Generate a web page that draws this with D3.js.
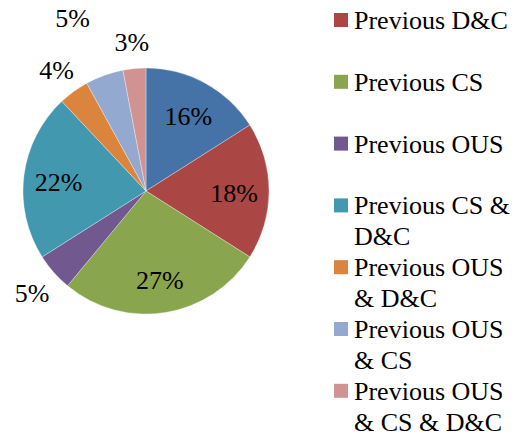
<!DOCTYPE html>
<html>
<head>
<meta charset="utf-8">
<script src="https://cdn.jsdelivr.net/npm/d3@7"></script>
<style>
  body { margin: 0; background: #fff; }
  svg { display: block; }
</style>
</head>
<body>
<div id="chart"></div>
<script>
// Categories (first one is cut off at the top of the legend in the original)
var categories = ['Previous', 'Previous D&C', 'Previous CS', 'Previous OUS',
  'Previous CS & D&C', 'Previous OUS & D&C', 'Previous OUS & CS', 'Previous OUS & CS & D&C'];
var values = [16, 18, 27, 5, 22, 4, 5, 3];
var colors = ['#4572A7', '#AA4643', '#89A54E', '#71588F', '#4198AF', '#DB843D', '#93A9CF', '#D19392'];

var width = 515, height = 438;
var cx = 146, cy = 191, radius = 123;
var fontFamily = "'Liberation Serif', 'Times New Roman', Tinos, 'DejaVu Serif', serif";

var svg = d3.select('#chart').append('svg')
  .attr('width', width)
  .attr('height', height)
  .style('font-family', fontFamily);

var pie = d3.pie().sort(null).value(function (d) { return d; });
var arcs = pie(values);

var arc = d3.arc().innerRadius(0).outerRadius(radius);

var g = svg.append('g').attr('transform', 'translate(' + cx + ',' + cy + ')');

g.selectAll('path')
  .data(arcs)
  .enter().append('path')
  .attr('d', arc)
  .attr('fill', function (d, i) { return colors[i]; })
  .attr('stroke', 'rgba(255,255,255,0.45)')
  .attr('stroke-width', 0.7);

// Labels: big slices inside, small ones outside
var insideR = 88, outsideR = 152;
function labelPos(d, i) {
  var a = (d.startAngle + d.endAngle) / 2;
  var r = d.data >= 10 ? insideR : outsideR;
  var p = [Math.sin(a) * r, -Math.cos(a) * r];
  if (i === 6) { p[0] -= 22; p[1] -= 32; } // nudged away from its neighbours
  return p;
}

g.selectAll('text.pct')
  .data(arcs)
  .enter().append('text')
  .attr('class', 'pct')
  .attr('x', function (d, i) { return labelPos(d, i)[0]; })
  .attr('y', function (d, i) { return labelPos(d, i)[1]; })
  .attr('dy', '0.42em')
  .attr('text-anchor', 'middle')
  .attr('font-family', fontFamily)
  .attr('font-size', 26)
  .attr('fill', '#000')
  .text(function (d) { return d.data + '%'; });

// Legend
var legendX = 334, legendTop = 29, legendStep = 61.8, lineH = 31, maxW = 162;
var legend = svg.append('g');

categories.forEach(function (name, i) {
  var baseY = legendTop + (i - 1) * legendStep;
  if (baseY < 0) return; // first entry is clipped off the top
  var item = legend.append('g');
  item.append('rect')
    .attr('x', legendX)
    .attr('y', baseY - 16)
    .attr('width', 14)
    .attr('height', 14)
    .attr('fill', colors[i]);

  var text = item.append('text')
    .attr('x', legendX + 20)
    .attr('y', baseY)
    .attr('font-family', fontFamily)
    .attr('font-size', 26)
    .attr('fill', '#000');

  // simple word wrap
  var words = name.split(' ');
  var line = [];
  var tspan = text.append('tspan').attr('x', legendX + 20).attr('y', baseY);
  var lineNo = 0;
  words.forEach(function (w) {
    line.push(w);
    tspan.text(line.join(' '));
    if (tspan.node().getComputedTextLength() > maxW && line.length > 1) {
      line.pop();
      tspan.text(line.join(' '));
      line = [w];
      lineNo++;
      tspan = text.append('tspan')
        .attr('x', legendX + 20)
        .attr('y', baseY + lineNo * lineH)
        .text(w);
    }
  });
});
</script>
</body>
</html>
